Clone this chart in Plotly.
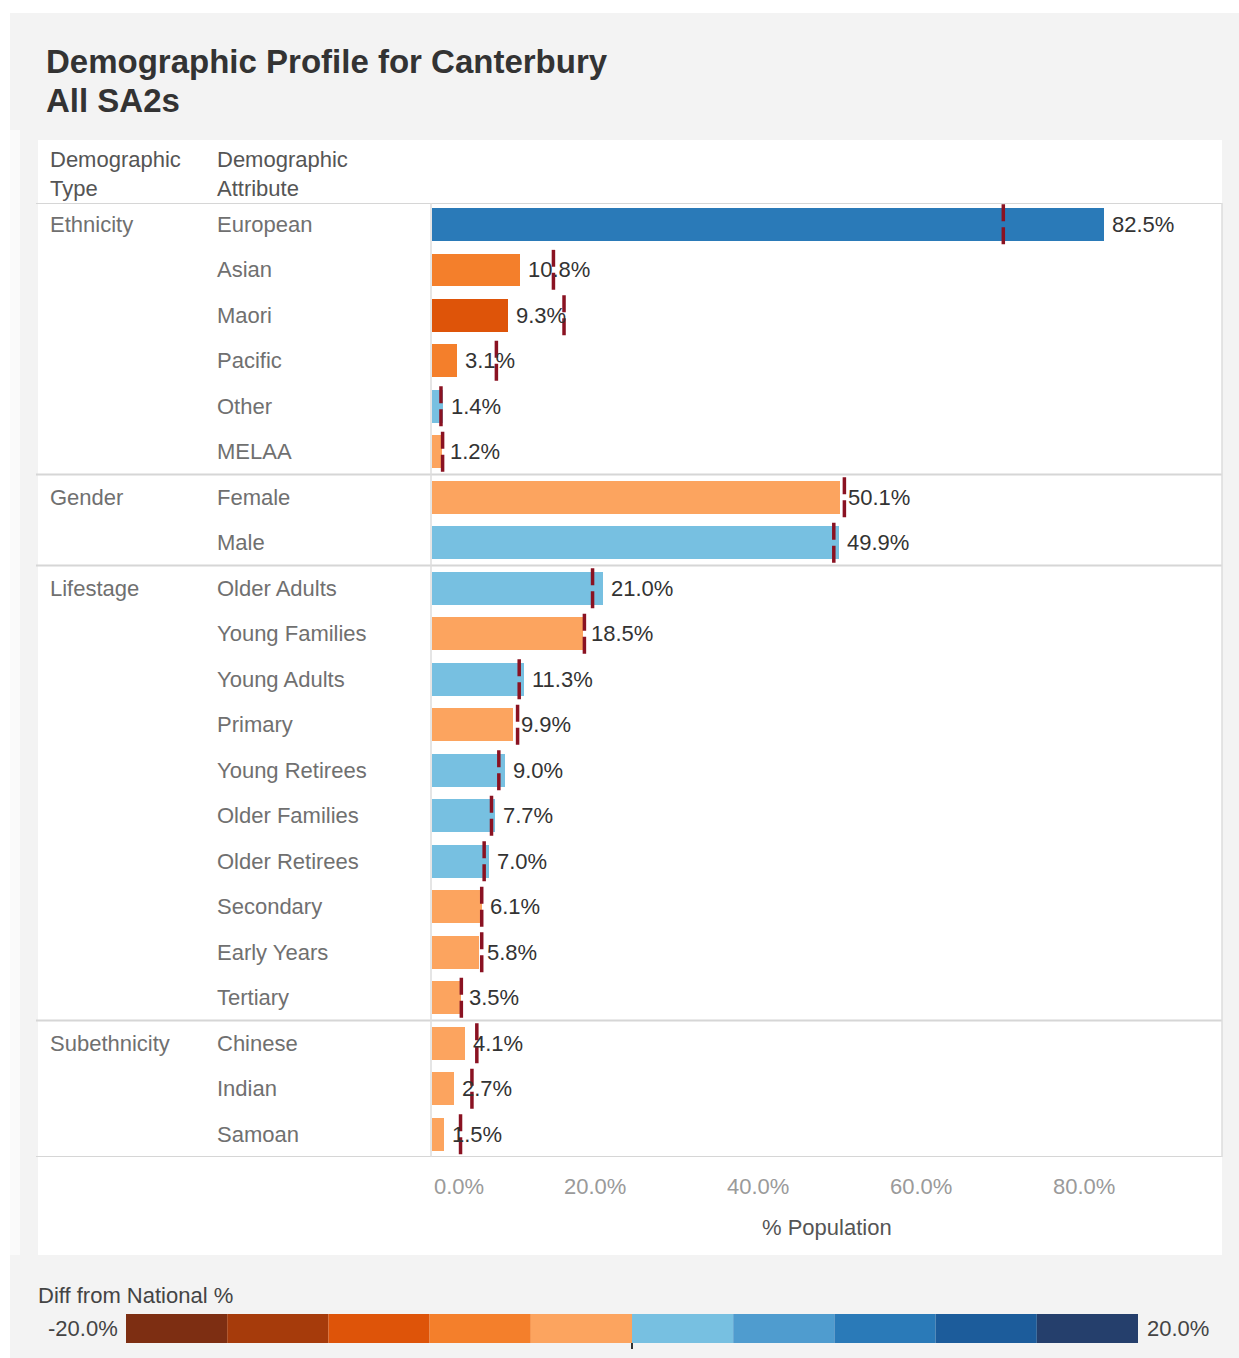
import plotly.graph_objects as go

# ---- data ----
demographic_types = ["Ethnicity", "Gender", "Lifestage", "Subethnicity"]
group_sizes = [6, 2, 10, 3]
attributes = [
    "European", "Asian", "Maori", "Pacific", "Other", "MELAA",
    "Female", "Male",
    "Older Adults", "Young Families", "Young Adults", "Primary", "Young Retirees",
    "Older Families", "Older Retirees", "Secondary", "Early Years", "Tertiary",
    "Chinese", "Indian", "Samoan",
]
pct_population = [
    82.5, 10.8, 9.3, 3.1, 1.4, 1.2,
    50.1, 49.9,
    21.0, 18.5, 11.3, 9.9, 9.0, 7.7, 7.0, 6.1, 5.8, 3.5,
    4.1, 2.7, 1.5,
]
national_pct = [
    70.1, 14.9, 16.2, 7.9, 1.1, 1.3,
    50.6, 49.3,
    19.7, 18.7, 10.7, 10.5, 8.2, 7.3, 6.4, 6.1, 6.1, 3.6,
    5.5, 4.9, 3.5,
]
# colour step (0..9) of the "Diff from National %" scale for each bar
diff_step = [
    7, 3, 2, 3, 5, 4,
    4, 5,
    5, 4, 5, 4, 5, 5, 5, 4, 4, 4,
    4, 4, 4,
]
tick_values = [0, 20, 40, 60, 80]
legend_min, legend_max = -20.0, 20.0

# ---- styling ----
step_colors = [
    "#7d2e12", "#a63b0b", "#de5409", "#f47f2b", "#fca45f",
    "#77c0e1", "#4f9ccf", "#2a7ab8", "#1c5c9b", "#253f6c",
]
FONT = "Liberation Sans, Arial, sans-serif"
LABEL_SIZE = 22
W, H = 1239, 1358
PL, PR, PT, PB = 432, 1222, 203, 1157  # plot area in pixels


def px(x):
    return (x - PL) / (PR - PL)


def py(y):
    return (PB - y) / (PB - PT)


rows = list(range(len(attributes)))
bar_colors = [step_colors[s] for s in diff_step]

fig = go.Figure()
fig.add_trace(go.Bar(
    x=pct_population, y=rows, orientation="h", width=0.72,
    marker=dict(color=bar_colors, line=dict(width=0)),
    hoverinfo="skip", showlegend=False,
))

shapes = []
annotations = []

# page background and white panel
shapes.append(dict(type="rect", xref="paper", yref="paper", layer="below",
                   x0=px(10), x1=px(W + 5), y0=py(13), y1=py(H + 5),
                   fillcolor="#f3f3f3", line=dict(width=0)))
shapes.append(dict(type="rect", xref="paper", yref="paper", layer="below",
                   x0=px(10), x1=px(20), y0=py(130), y1=py(1255),
                   fillcolor="#fafafa", line=dict(width=0)))
shapes.append(dict(type="rect", xref="paper", yref="paper", layer="below",
                   x0=px(38), x1=px(PR), y0=py(140), y1=py(1255),
                   fillcolor="#ffffff", line=dict(width=0)))

# row separators: header line, group boundaries, bottom line
sep_rows = [-0.47]
acc = 0
for n in group_sizes:
    acc += n
    sep_rows.append(acc - 0.5)
sep_rows[-1] = 20.5
for r in sep_rows:
    shapes.append(dict(type="line", xref="paper", yref="y",
                       x0=px(36), x1=1, y0=r, y1=r,
                       line=dict(color="#d6d6d6", width=2)))
# pane borders
for xx in (px(431), 1):
    shapes.append(dict(type="line", xref="paper", yref="y",
                       x0=xx, x1=xx, y0=-0.47, y1=20.5,
                       line=dict(color="#dcdcdc", width=1.5)))

# national reference marks
for i, v in enumerate(national_pct):
    shapes.append(dict(type="line", xref="x", yref="y",
                       x0=v, x1=v, y0=i - 0.44, y1=i + 0.44,
                       line=dict(color="#8a1222", width=3.5, dash="17px,6px")))

# value labels
for i, v in enumerate(pct_population):
    annotations.append(dict(x=v, y=i, xref="x", yref="y", xanchor="left",
                            xshift=6, yanchor="middle", showarrow=False,
                            text=f"{v:.1f}%",
                            font=dict(family=FONT, size=LABEL_SIZE, color="#333333")))

# row headers
for i, name in enumerate(attributes):
    annotations.append(dict(x=px(215), y=i, xref="paper", yref="y",
                            xanchor="left", yanchor="middle", showarrow=False,
                            text=name,
                            font=dict(family=FONT, size=LABEL_SIZE, color="#707070")))
start = 0
for t, n in zip(demographic_types, group_sizes):
    annotations.append(dict(x=px(48), y=start, xref="paper", yref="y",
                            xanchor="left", yanchor="middle", showarrow=False,
                            text=t,
                            font=dict(family=FONT, size=LABEL_SIZE, color="#707070")))
    start += n

# column headers
for xpos, txt in ((48, "Demographic<br>Type"), (215, "Demographic<br>Attribute")):
    annotations.append(dict(x=px(xpos), y=py(174), xref="paper", yref="paper",
                            xanchor="left", yanchor="middle", align="left",
                            showarrow=False, text=txt,
                            font=dict(family=FONT, size=LABEL_SIZE, color="#555555")))

# title
for ypos, txt in ((62, "Demographic Profile for Canterbury"), (100, "All SA2s")):
    annotations.append(dict(x=px(44), y=py(ypos), xref="paper", yref="paper",
                            xanchor="left", yanchor="middle", showarrow=False,
                            text=f"<b>{txt}</b>",
                            font=dict(family=FONT, size=33, color="#333333")))

# x-axis tick labels and title
for k, t in enumerate(tick_values):
    annotations.append(dict(x=t, y=py(1186), xref="x", yref="paper",
                            xanchor="left" if k == 0 else "center",
                            yanchor="middle", showarrow=False, text=f"{t:.1f}%",
                            font=dict(family=FONT, size=LABEL_SIZE, color="#9a9a9a")))
annotations.append(dict(x=0.5, y=py(1227), xref="paper", yref="paper",
                        xanchor="center", yanchor="middle", showarrow=False,
                        text="% Population",
                        font=dict(family=FONT, size=LABEL_SIZE, color="#555555")))

# colour legend
LX0, LX1, LY0, LY1 = 126, 1138, 1314, 1343
seg = (LX1 - LX0) / len(step_colors)
for k, c in enumerate(step_colors):
    shapes.append(dict(type="rect", xref="paper", yref="paper",
                       x0=px(LX0 + k * seg), x1=px(LX0 + (k + 1) * seg),
                       y0=py(LY1), y1=py(LY0), fillcolor=c, line=dict(width=0)))
zero_x = LX0 + (0 - legend_min) / (legend_max - legend_min) * (LX1 - LX0)
shapes.append(dict(type="line", xref="paper", yref="paper",
                   x0=px(zero_x), x1=px(zero_x), y0=py(LY1), y1=py(LY1 + 6),
                   line=dict(color="#333333", width=2)))
annotations.append(dict(x=px(36), y=py(1295), xref="paper", yref="paper",
                        xanchor="left", yanchor="middle", showarrow=False,
                        text="Diff from National %",
                        font=dict(family=FONT, size=LABEL_SIZE, color="#444444")))
annotations.append(dict(x=px(LX0 - 6), y=py(1328), xref="paper", yref="paper",
                        xanchor="right", yanchor="middle", showarrow=False,
                        text=f"{legend_min:.1f}%",
                        font=dict(family=FONT, size=LABEL_SIZE, color="#444444")))
annotations.append(dict(x=px(LX1 + 7), y=py(1328), xref="paper", yref="paper",
                        xanchor="left", yanchor="middle", showarrow=False,
                        text=f"{legend_max:.1f}%",
                        font=dict(family=FONT, size=LABEL_SIZE, color="#444444")))

fig.update_layout(
    width=W, height=H,
    margin=dict(l=PL, r=W - PR, t=PT, b=H - PB, pad=0),
    paper_bgcolor="#ffffff", plot_bgcolor="#ffffff",
    xaxis=dict(range=[0, (PR - PL) / 8.15], showgrid=False, zeroline=False,
               showticklabels=False, ticks="", fixedrange=True),
    yaxis=dict(range=[20.5, -0.47], showgrid=False, zeroline=False,
               showticklabels=False, ticks="", fixedrange=True),
    bargap=0, shapes=shapes, annotations=annotations,
)

fig.write_html("out.html", config={"displayModeBar": False})
